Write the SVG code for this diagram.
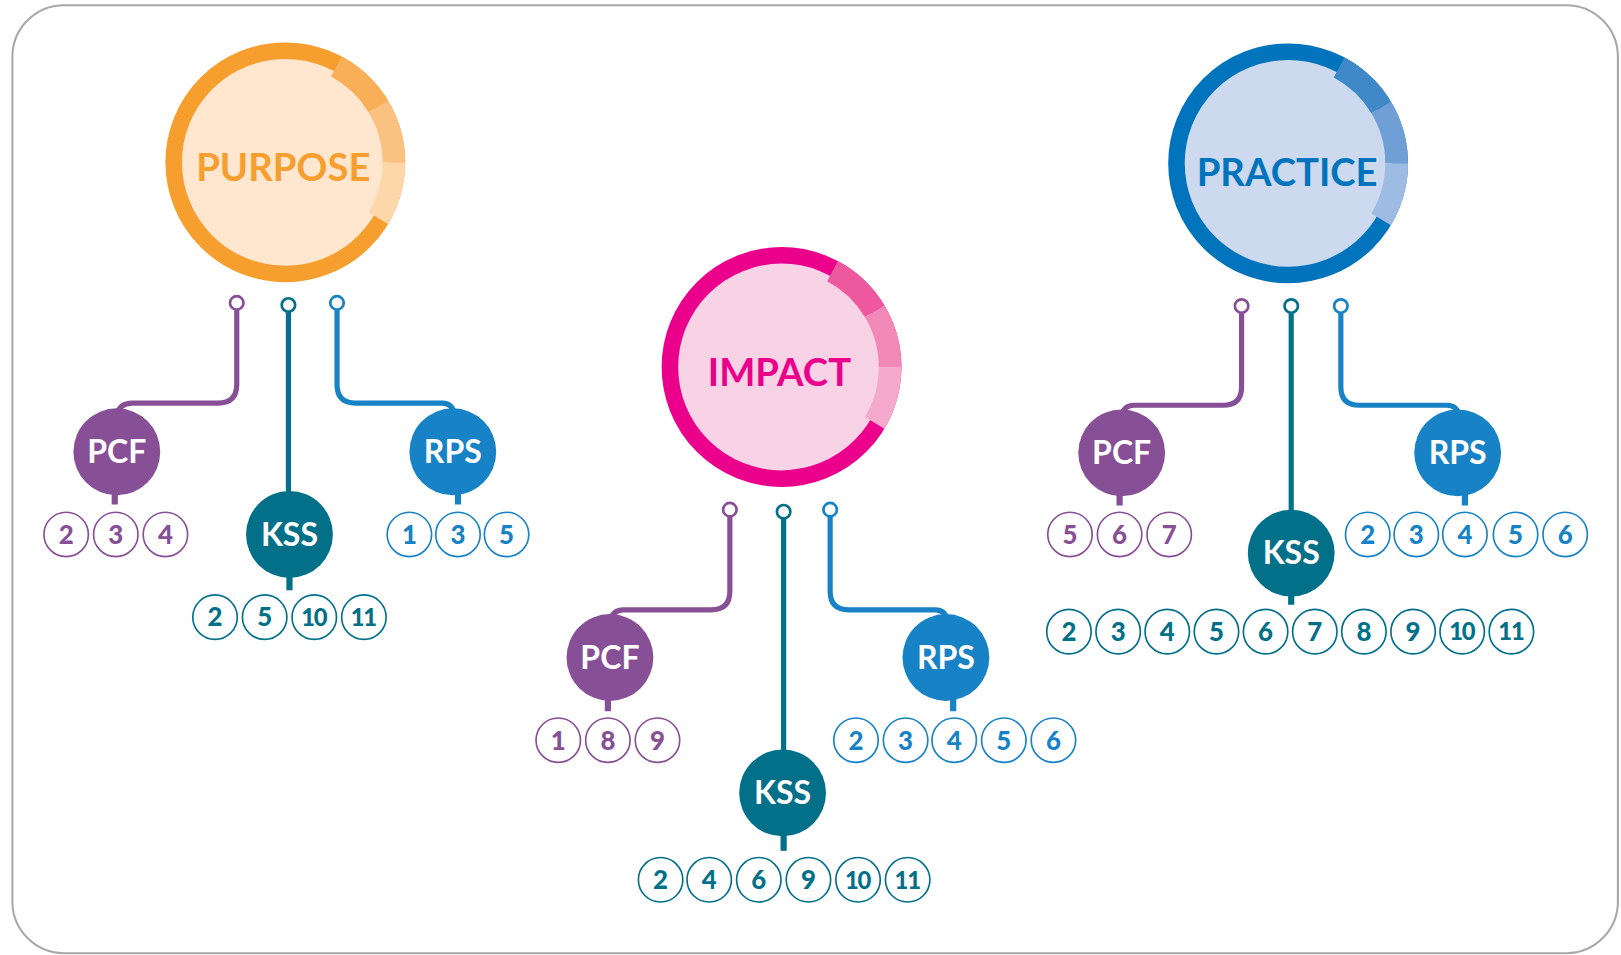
<svg xmlns="http://www.w3.org/2000/svg" width="1621" height="955" viewBox="0 0 1621 955">
<style>
.frame{fill:#fff;stroke:#a8a8a8;stroke-width:2}
.title{font-family:Lato,"Liberation Sans",sans-serif;font-weight:700;font-size:37px;text-anchor:middle}
.lbl{font-family:Lato,"Liberation Sans",sans-serif;font-weight:700;font-size:31px;fill:#fff;text-anchor:middle}
.n{font-family:Lato,"Liberation Sans",sans-serif;font-weight:900;font-size:25px;text-anchor:middle}
.n2{font-family:Lato,"Liberation Sans",sans-serif;font-weight:900;font-size:23px;text-anchor:middle;letter-spacing:-1.2px}
.seg{fill:none;stroke-width:22;stroke-linecap:butt}
.ln{fill:none;stroke-width:5;stroke-linecap:butt;stroke-linejoin:round}
.stub{fill:none;stroke-width:6;stroke-linecap:butt}
.tip{fill:#fff;stroke-width:2.6}
.nc{fill:#fff;stroke-width:1.6}
.pu{stroke:#874F96}.pf{fill:#874F96}
.te{stroke:#03708A}.tf{fill:#03708A}
.bl{stroke:#1782C6}.bf{fill:#1782C6}
</style>
<rect x="0" y="0" width="1621" height="955" fill="#fff"/>
<g transform="scale(1.0338)">
<rect class="frame" x="12" y="5" width="1553" height="917" rx="50"/>

<!-- big circles -->
<g id="purpose">
<circle cx="276" cy="157" r="108" fill="#FEE7CE" stroke="#F69E2E" stroke-width="16"/>
<path class="seg" stroke="#F9AE58" d="M325.3,64.3 A105,105 0 0 1 366,102.9"/>
<path class="seg" stroke="#FBC180" d="M366,102.9 A105,105 0 0 1 381,157"/>
<path class="seg" stroke="#FDD6AA" d="M381,157 A105,105 0 0 1 366,211.1"/>
<text class="title" x="274" y="175" fill="#F69E2E">PURPOSE</text>
</g>
<g id="impact">
<circle cx="756" cy="355" r="108" fill="#F8D3E6" stroke="#EB008B" stroke-width="16"/>
<path class="seg" stroke="#EE589E" d="M805.3,262.3 A105,105 0 0 1 846,300.9"/>
<path class="seg" stroke="#F288B8" d="M846,300.9 A105,105 0 0 1 861,355"/>
<path class="seg" stroke="#F5A9CC" d="M861,355 A105,105 0 0 1 846,409.1"/>
<text class="title" x="754" y="373" fill="#EB008B">IMPACT</text>
</g>
<g id="practice">
<circle cx="1246" cy="158" r="108" fill="#CCD9EF" stroke="#0073BD" stroke-width="16"/>
<path class="seg" stroke="#3F89C9" d="M1295.3,65.3 A105,105 0 0 1 1336,103.9"/>
<path class="seg" stroke="#709FD5" d="M1336,103.9 A105,105 0 0 1 1351,158"/>
<path class="seg" stroke="#9EBCE3" d="M1351,158 A105,105 0 0 1 1336,212.1"/>
<text class="title" x="1245" y="180" fill="#0073BD">PRACTICE</text>
</g>

<!-- connectors -->
<g id="connectors">
<path class="ln pu" d="M229,300 V372 Q229,390 211,390 H128 Q115,390 113,402"/>
<path class="ln te" d="M279,302 V480"/>
<path class="ln bl" d="M326,300 V372 Q326,390 344,390 H428 Q438,390 440,402"/>
<path class="stub pu" d="M111,475 V488"/>
<path class="stub te" d="M280,555 V571"/>
<path class="stub bl" d="M443,475 V488"/>
<circle class="tip pu" cx="229" cy="293" r="6.5"/>
<circle class="tip te" cx="279" cy="295" r="6.5"/>
<circle class="tip bl" cx="326" cy="293" r="6.5"/>

<path class="ln pu" d="M706,500 V572 Q706,590 688,590 H603 Q592,590 590,602"/>
<path class="ln te" d="M758,502 V728"/>
<path class="ln bl" d="M803,500 V572 Q803,590 821,590 H905 Q915,590 917,602"/>
<path class="stub pu" d="M588,674 V688"/>
<path class="stub te" d="M758,805 V823"/>
<path class="stub bl" d="M922,674 V688"/>
<circle class="tip pu" cx="706" cy="493" r="6.5"/>
<circle class="tip te" cx="758" cy="495" r="6.5"/>
<circle class="tip bl" cx="803" cy="493" r="6.5"/>

<path class="ln pu" d="M1201,303 V374 Q1201,392 1183,392 H1097 Q1086,392 1085,404"/>
<path class="ln te" d="M1249,303 V496"/>
<path class="ln bl" d="M1297,303 V374 Q1297,392 1315,392 H1400 Q1410,392 1412,404"/>
<path class="stub pu" d="M1083,476 V489"/>
<path class="stub te" d="M1249,573 V585"/>
<path class="stub bl" d="M1417,476 V489"/>
<circle class="tip pu" cx="1201" cy="296" r="6.5"/>
<circle class="tip te" cx="1249" cy="296" r="6.5"/>
<circle class="tip bl" cx="1297" cy="296" r="6.5"/>
</g>

<!-- PURPOSE children -->
<g id="purpose-pcf"><circle class="pf" cx="113" cy="437" r="42"/><text class="lbl" x="113" y="448">PCF</text></g>
<g id="purpose-kss"><circle class="tf" cx="280" cy="517" r="42"/><text class="lbl" x="280" y="528">KSS</text></g>
<g id="purpose-rps"><circle class="bf" cx="438" cy="437" r="42"/><text class="lbl" x="438" y="448">RPS</text></g>
<g id="purpose-pcf-nums">
<circle class="nc pu" cx="64" cy="517" r="21.5"/><text class="n pf" x="64" y="526">2</text>
<circle class="nc pu" cx="112" cy="517" r="21.5"/><text class="n pf" x="112" y="526">3</text>
<circle class="nc pu" cx="160" cy="517" r="21.5"/><text class="n pf" x="160" y="526">4</text>
</g>
<g id="purpose-kss-nums">
<circle class="nc te" cx="208" cy="597" r="21.5"/><text class="n tf" x="208" y="606">2</text>
<circle class="nc te" cx="256" cy="597" r="21.5"/><text class="n tf" x="256" y="606">5</text>
<circle class="nc te" cx="304" cy="597" r="21.5"/><text class="n2 tf" x="303.5" y="605.5">10</text>
<circle class="nc te" cx="352" cy="597" r="21.5"/><text class="n2 tf" x="351.5" y="605.5">11</text>
</g>
<g id="purpose-rps-nums">
<circle class="nc bl" cx="396" cy="517" r="21.5"/><text class="n bf" x="396" y="526">1</text>
<circle class="nc bl" cx="443" cy="517" r="21.5"/><text class="n bf" x="443" y="526">3</text>
<circle class="nc bl" cx="490" cy="517" r="21.5"/><text class="n bf" x="490" y="526">5</text>
</g>

<!-- IMPACT children -->
<g id="impact-pcf"><circle class="pf" cx="590" cy="636" r="42"/><text class="lbl" x="590" y="647">PCF</text></g>
<g id="impact-kss"><circle class="tf" cx="757" cy="767" r="42"/><text class="lbl" x="757" y="778">KSS</text></g>
<g id="impact-rps"><circle class="bf" cx="915" cy="636" r="42"/><text class="lbl" x="915" y="647">RPS</text></g>
<g id="impact-pcf-nums">
<circle class="nc pu" cx="540" cy="716" r="21.5"/><text class="n pf" x="540" y="725">1</text>
<circle class="nc pu" cx="588" cy="716" r="21.5"/><text class="n pf" x="588" y="725">8</text>
<circle class="nc pu" cx="636" cy="716" r="21.5"/><text class="n pf" x="636" y="725">9</text>
</g>
<g id="impact-kss-nums">
<circle class="nc te" cx="639" cy="851" r="21.5"/><text class="n tf" x="639" y="860">2</text>
<circle class="nc te" cx="686" cy="851" r="21.5"/><text class="n tf" x="686" y="860">4</text>
<circle class="nc te" cx="734" cy="851" r="21.5"/><text class="n tf" x="734" y="860">6</text>
<circle class="nc te" cx="782" cy="851" r="21.5"/><text class="n tf" x="782" y="860">9</text>
<circle class="nc te" cx="830" cy="851" r="21.5"/><text class="n2 tf" x="829.5" y="859.5">10</text>
<circle class="nc te" cx="878" cy="851" r="21.5"/><text class="n2 tf" x="877.5" y="859.5">11</text>
</g>
<g id="impact-rps-nums">
<circle class="nc bl" cx="828" cy="716" r="21.5"/><text class="n bf" x="828" y="725">2</text>
<circle class="nc bl" cx="876" cy="716" r="21.5"/><text class="n bf" x="876" y="725">3</text>
<circle class="nc bl" cx="923" cy="716" r="21.5"/><text class="n bf" x="923" y="725">4</text>
<circle class="nc bl" cx="971" cy="716" r="21.5"/><text class="n bf" x="971" y="725">5</text>
<circle class="nc bl" cx="1019" cy="716" r="21.5"/><text class="n bf" x="1019" y="725">6</text>
</g>

<!-- PRACTICE children -->
<g id="practice-pcf"><circle class="pf" cx="1085" cy="438" r="42"/><text class="lbl" x="1085" y="449">PCF</text></g>
<g id="practice-kss"><circle class="tf" cx="1249" cy="535" r="42"/><text class="lbl" x="1249" y="546">KSS</text></g>
<g id="practice-rps"><circle class="bf" cx="1410" cy="438" r="42"/><text class="lbl" x="1410" y="449">RPS</text></g>
<g id="practice-pcf-nums">
<circle class="nc pu" cx="1035" cy="517" r="21.5"/><text class="n pf" x="1035" y="526">5</text>
<circle class="nc pu" cx="1083" cy="517" r="21.5"/><text class="n pf" x="1083" y="526">6</text>
<circle class="nc pu" cx="1131" cy="517" r="21.5"/><text class="n pf" x="1131" y="526">7</text>
</g>
<g id="practice-kss-nums">
<circle class="nc te" cx="1034" cy="611" r="21.5"/><text class="n tf" x="1034" y="620">2</text>
<circle class="nc te" cx="1081.6" cy="611" r="21.5"/><text class="n tf" x="1081.6" y="620">3</text>
<circle class="nc te" cx="1129.1" cy="611" r="21.5"/><text class="n tf" x="1129.1" y="620">4</text>
<circle class="nc te" cx="1176.7" cy="611" r="21.5"/><text class="n tf" x="1176.7" y="620">5</text>
<circle class="nc te" cx="1224.2" cy="611" r="21.5"/><text class="n tf" x="1224.2" y="620">6</text>
<circle class="nc te" cx="1271.8" cy="611" r="21.5"/><text class="n tf" x="1271.8" y="620">7</text>
<circle class="nc te" cx="1319.3" cy="611" r="21.5"/><text class="n tf" x="1319.3" y="620">8</text>
<circle class="nc te" cx="1366.9" cy="611" r="21.5"/><text class="n tf" x="1366.9" y="620">9</text>
<circle class="nc te" cx="1414.4" cy="611" r="21.5"/><text class="n2 tf" x="1413.9" y="619.5">10</text>
<circle class="nc te" cx="1462" cy="611" r="21.5"/><text class="n2 tf" x="1461.5" y="619.5">11</text>
</g>
<g id="practice-rps-nums">
<circle class="nc bl" cx="1323" cy="517" r="21.5"/><text class="n bf" x="1323" y="526">2</text>
<circle class="nc bl" cx="1370" cy="517" r="21.5"/><text class="n bf" x="1370" y="526">3</text>
<circle class="nc bl" cx="1417" cy="517" r="21.5"/><text class="n bf" x="1417" y="526">4</text>
<circle class="nc bl" cx="1466" cy="517" r="21.5"/><text class="n bf" x="1466" y="526">5</text>
<circle class="nc bl" cx="1514" cy="517" r="21.5"/><text class="n bf" x="1514" y="526">6</text>
</g>
</g>
</svg>
